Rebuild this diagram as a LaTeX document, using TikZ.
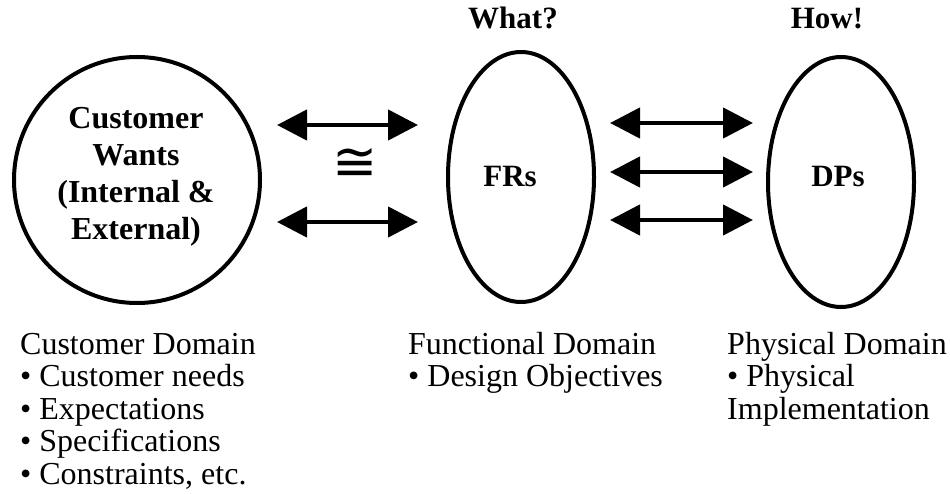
\documentclass[tikz,border=0pt]{standalone}
\usepackage{fontspec}
\setmainfont{Liberation Serif}
\newfontfamily\symfam{DejaVu Sans}
\usetikzlibrary{arrows.meta,shapes.geometric}
\begin{document}
\begin{tikzpicture}[x=1pt,y=-1pt,
  dom/.style={ellipse,draw,line width=4pt,minimum width=146pt,minimum height=250pt,inner sep=0pt},
  lbl/.style={font=\fontsize{31}{31}\selectfont\bfseries,inner sep=0pt,anchor=base},
  txt/.style={font=\fontsize{32}{32}\selectfont,inner sep=0pt,anchor=base west},
  dbl/.style={line width=4.5pt,{Triangle[length=30pt,width=30pt]}-{Triangle[length=30pt,width=30pt]}}]
\useasboundingbox (0,0) rectangle (950,494);
% customer domain circle
\node[circle,draw,line width=4pt,minimum size=246pt,inner sep=0pt] (cw) at (137,180) {};
\node[font=\fontsize{32}{37}\selectfont\bfseries,align=center,inner sep=0pt] (cwt) at (136,177)
  {Customer\\Wants\\(Internal \&\\External)};
% ellipses
\node[dom] (fr) at (521,177) {};
\node[dom] (dp) at (841,182) {};
\node[lbl] (frt) at (510,187) {FRs};
\node[lbl] (dpt) at (838,187) {DPs};
\node[lbl] (what) at (513,29) {What?};
\node[lbl] (how) at (827,29) {How!};
% congruence sign
\node[font=\fontsize{54}{54}\selectfont\symfam,inner sep=0pt] (cong) at (355,164) {≅};
% arrow end points
\coordinate (l1a) at (277,125); \coordinate (l1b) at (418,125);
\coordinate (l2a) at (277,222); \coordinate (l2b) at (418,222);
\coordinate (r1a) at (610,123); \coordinate (r1b) at (753,123);
\coordinate (r2a) at (610,172); \coordinate (r2b) at (753,172);
\coordinate (r3a) at (610,220); \coordinate (r3b) at (753,220);
\draw[dbl] (l1a) -- (l1b);
\draw[dbl] (l2a) -- (l2b);
\draw[dbl] (r1a) -- (r1b);
\draw[dbl] (r2a) -- (r2b);
\draw[dbl] (r3a) -- (r3b);
% bottom texts
\node[txt] (c1) at (20,354) {Customer Domain};
\node[txt] (c2) at (20,386.5) {• Customer needs};
\node[txt] (c3) at (20,419) {• Expectations};
\node[txt] (c4) at (20,451.5) {• Specifications};
\node[txt] (c5) at (20,484) {• Constraints, etc.};
\node[txt] (f1) at (408,354) {Functional Domain};
\node[txt] (f2) at (408,386.5) {• Design Objectives};
\node[txt] (p1) at (727,354) {Physical Domain};
\node[txt] (p2) at (727,386.5) {• Physical};
\node[txt] (p3) at (727,419) {Implementation};
\end{tikzpicture}
\end{document}
